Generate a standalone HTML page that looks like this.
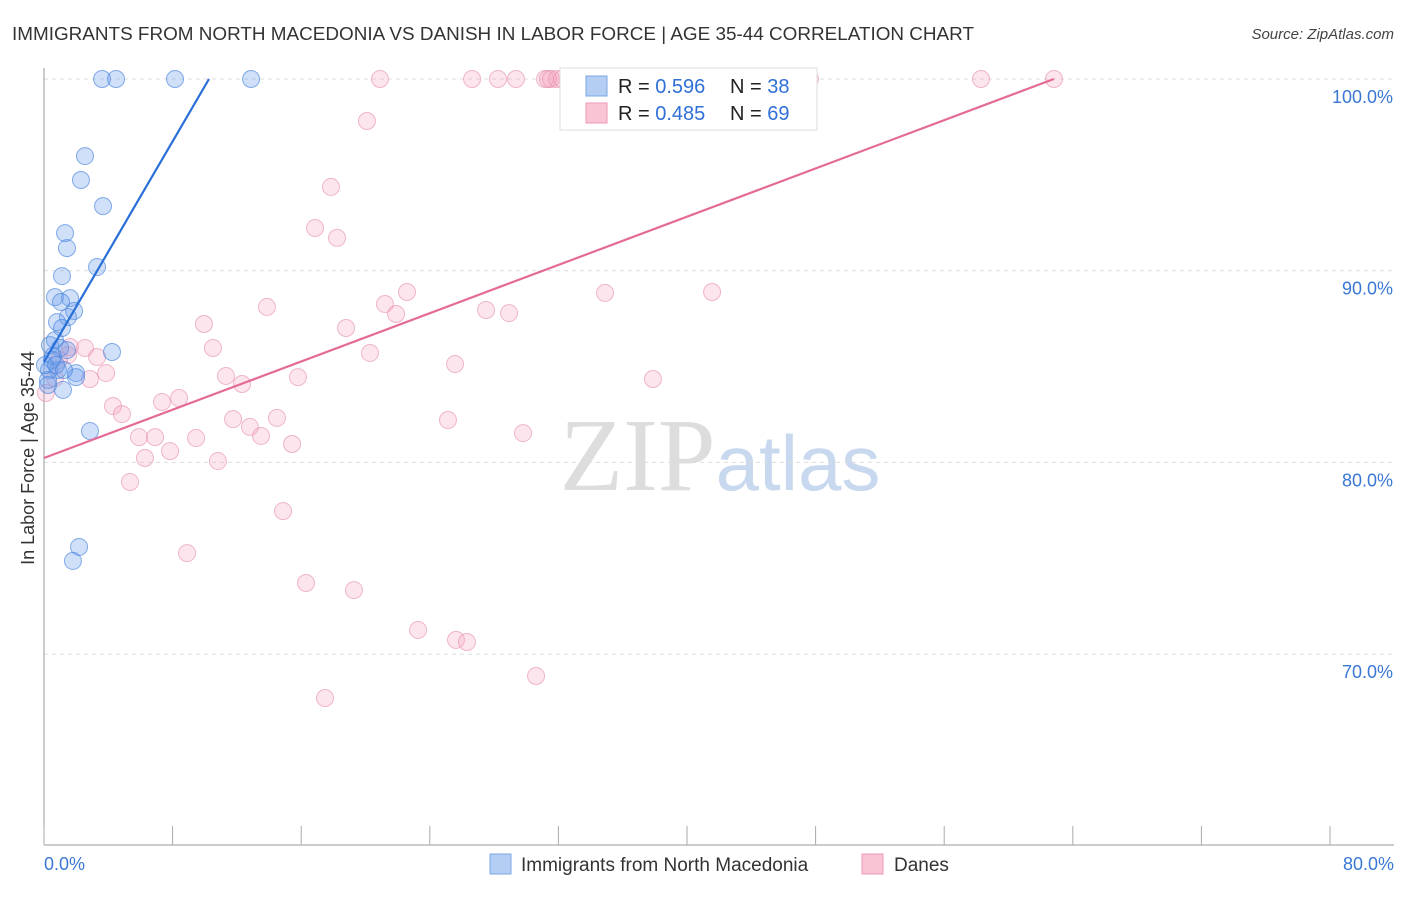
<!DOCTYPE html>
<html><head><meta charset="utf-8"><style>
body{margin:0;background:#fff;font-family:"Liberation Sans",sans-serif}
</style></head><body>
<svg width="1406" height="892" xmlns="http://www.w3.org/2000/svg" font-family="Liberation Sans, sans-serif">
<text x="12" y="40" font-size="18" fill="#333" textLength="962" lengthAdjust="spacingAndGlyphs">IMMIGRANTS FROM NORTH MACEDONIA VS DANISH IN LABOR FORCE | AGE 35-44 CORRELATION CHART</text>
<text x="1394" y="39" font-size="15" fill="#444" text-anchor="end" font-style="italic">Source: ZipAtlas.com</text>
<text x="720" y="490" font-size="104" fill="#ddd" text-anchor="middle" font-family="Liberation Serif, serif">ZIP<tspan fill="#c8d8ee" font-family="Liberation Sans, sans-serif" font-size="78">atlas</tspan></text>
<g id="grid"></g><g id="axes"></g><g id="pts"></g><g id="lines"></g>
<text transform="translate(34,458) rotate(-90)" font-size="18" fill="#333" text-anchor="middle">In Labor Force | Age 35-44</text>
<g>
<rect x="560" y="68" width="257" height="62" fill="#fff" stroke="#ddd"/>
<rect x="586" y="76" width="21" height="20" fill="#b3cdf3" stroke="#7aa7e6"/>
<rect x="586" y="103" width="21" height="20" fill="#f9c5d5" stroke="#ee9ab6"/>
<text x="618" y="93" font-size="20" fill="#222">R = <tspan fill="#2f6fd6">0.596</tspan><tspan x="730">N = </tspan><tspan fill="#2f6fd6">38</tspan></text>
<text x="618" y="120" font-size="20" fill="#222">R = <tspan fill="#2f6fd6">0.485</tspan><tspan x="730">N = </tspan><tspan fill="#2f6fd6">69</tspan></text>
</g>
<g>
<rect x="490" y="854" width="21" height="20" fill="#b3cdf3" stroke="#7aa7e6"/>
<text x="521" y="871" font-size="19" fill="#333">Immigrants from North Macedonia</text>
<rect x="862" y="854" width="21" height="20" fill="#f9c5d5" stroke="#ee9ab6"/>
<text x="894" y="871" font-size="19" fill="#333">Danes</text>
</g>
</svg>
<script>
const yTicks=[70,80,90,100];
const yTickLabels=["70.0%","80.0%","90.0%","100.0%"];
const xTickLabels=["0.0%","80.0%"];
const blueX=[3.61,4.48,8.15,12.88,2.55,2.30,3.67,1.31,1.43,3.30,1.12,0.68,1.62,1.06,1.87,1.49,0.81,1.12,0.68,0.37,1.0,0.56,4.23,1.43,0.87,1.99,1.99,1.18,0.31,0.25,2.86,2.18,1.80,0.5,0.25,0.06,0.75,1.24];
const blueY=[100,100,100,100,95.98,94.73,93.37,91.96,91.18,90.19,89.72,88.62,88.57,88.37,87.9,87.58,87.32,87.01,86.38,86.12,85.97,85.55,85.76,85.86,84.82,84.66,84.45,83.78,84.82,84.3,81.64,75.59,74.86,85.34,84.04,85.08,85.08,84.82];
const pinkX=[20.9,26.63,28.24,29.36,31.17,31.54,31.91,32.22,47.65,58.29,62.83,31.35,20.09,17.85,16.86,18.23,13.87,9.95,18.79,21.21,21.9,22.58,27.5,28.93,34.9,41.56,10.51,20.28,25.57,37.88,1.62,2.55,3.3,3.86,2.86,1.49,0.93,0.68,0.12,11.32,12.32,15.8,4.29,4.85,7.34,8.4,11.76,12.81,14.49,13.5,5.91,6.91,9.46,15.43,6.28,7.84,10.82,5.35,25.13,29.8,14.87,8.9,16.3,19.28,23.27,25.63,26.31,30.61,17.48];
const pinkY=[100,100,100,100,100,100,100,100,100,100,100,100,97.81,94.37,92.23,91.71,88.11,87.22,87.01,88.26,87.74,88.89,87.95,87.79,88.84,88.89,85.97,85.71,85.13,84.35,86.02,85.97,85.5,84.66,84.35,85.6,85.34,84.4,83.62,84.51,84.09,84.45,82.94,82.52,83.15,83.36,82.26,81.85,82.32,81.38,81.32,81.32,81.27,80.96,80.23,80.59,80.07,78.98,82.21,81.53,77.46,75.27,73.71,73.34,71.26,70.74,70.63,68.86,67.71];
const blueLine=[85.24,1.438];
const pinkLine=[80.23,0.3147];
const NS="http://www.w3.org/2000/svg";
const X=v=>44+v*16.075, Y=v=>79+(100-v)*19.17;
function mk(t,a,p){const e=document.createElementNS(NS,t);for(const k in a)e.setAttribute(k,a[k]);document.getElementById(p).appendChild(e);return e;}
yTicks.forEach((t,i)=>{
 const l=mk('line',{x1:44,x2:1394,y1:Y(t),y2:Y(t),stroke:'#ddd','stroke-dasharray':'4,4'},'grid');
 
 
 const tx=mk('text',{x:1393,y:Y(t)+24,'font-size':18,fill:'#3a78d4','text-anchor':'end'},'grid');
 tx.textContent=yTickLabels[i];
 
 
});
const ax=mk('line',{x1:44,x2:44,y1:68,y2:845,stroke:'#999'},'axes');


const bx=mk('line',{x1:44,x2:1394,y1:845,y2:845,stroke:'#999'},'axes');


for(let i=0;i<=10;i++){const t=mk('line',{x1:X(i*8),x2:X(i*8),y1:826,y2:845,stroke:'#aaa'},'axes');
 
 }
[[0,'start',44],[80,'end',1394]].forEach((d,i)=>{const t=mk('text',{x:d[2],y:870,'font-size':18,fill:'#3a78d4','text-anchor':d[1]},'axes');t.textContent=xTickLabels[i];
 
 });
pinkX.forEach((x,i)=>{const c=mk('circle',{cx:X(x),cy:Y(pinkY[i]),r:8.5,fill:'rgba(244,160,190,0.28)',stroke:'rgba(230,140,170,0.6)'},'pts');
 
 });
blueX.forEach((x,i)=>{const c=mk('circle',{cx:X(x),cy:Y(blueY[i]),r:8.5,fill:'rgba(110,160,235,0.32)',stroke:'rgba(70,130,220,0.65)'},'pts');
 
 });
function reg(p,col,name){const xe=(100-p[0])/p[1];const l=mk('line',{x1:X(0),y1:Y(p[0]),x2:X(xe),y2:Y(100),stroke:col,'stroke-width':2.2},'lines');
 
 }
reg(blueLine,'#2a6fd8','macedonia-trendline');
reg(pinkLine,'#e46b98','danes-trendline');
</script>
</body></html>
